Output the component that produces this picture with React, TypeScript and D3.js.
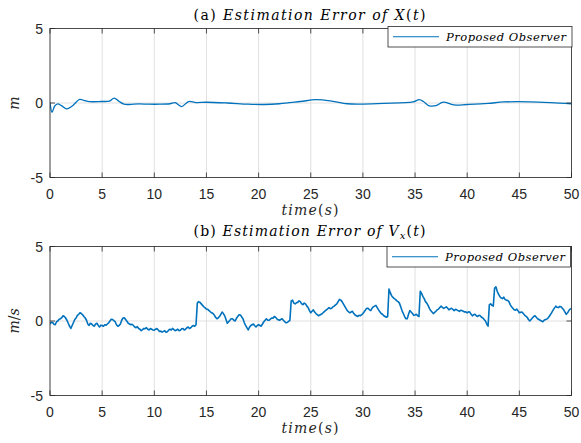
import React from 'react';
import * as d3 from 'd3';

const W = 581;
const H = 443;

const xTicks = [0, 5, 10, 15, 20, 25, 30, 35, 40, 45, 50];
const yTicks = [-5, 0, 5];
const legendLabel = 'Proposed Observer';

// (a) position error, smooth -> [time, error]
const posError: [number, number][] = [
  [0, 0.02], [0.2, -0.62], [0.45, -0.2], [0.75, -0.06], [1.1, -0.18], [1.6, -0.4],
  [2.1, -0.22], [2.85, 0.24], [3.3, 0.16], [3.8, 0.09], [4.9, 0.1], [5.7, 0.13],
  [6.15, 0.33], [6.6, 0.12], [7.1, -0.08], [7.6, -0.1], [8.5, -0.06], [9.5, -0.08],
  [10.5, -0.08], [11.5, -0.05], [12.0, 0.02], [12.6, -0.24], [13.3, 0.1], [14, 0.03],
  [15, 0.05], [17, 0.0], [19, -0.08], [20.5, -0.1], [22, -0.05], [24, 0.1],
  [25.5, 0.22], [27, 0.13], [28.5, -0.05], [30, -0.07], [32, -0.03], [34.8, 0.07],
  [35.4, 0.22], [35.8, 0.1], [36.3, -0.17], [37.0, -0.18], [37.7, 0.06], [38.7, -0.13],
  [40, -0.1], [42, -0.03], [43.5, 0.07], [46, 0.08], [48, 0.03], [50, -0.05],
];

// (b) velocity error, one sample every 0.125 s (8 per row = 1 s)
const velStep = 0.125;
const velError: number[] = [
  -0.2, -0.08, -0.1, -0.22, -0.25, -0.05, 0.0, 0.12,
  0.15, 0.22, 0.35, 0.3, 0.2, 0.05, -0.15, -0.35,
  -0.5, -0.3, -0.1, 0.1, 0.2, 0.38, 0.45, 0.55,
  0.5, 0.42, 0.3, 0.2, 0.05, -0.2, -0.3, -0.15,
  -0.2, -0.3, -0.35, -0.2, -0.15, -0.3, -0.4, -0.28,
  -0.3, -0.35, -0.25, -0.28, -0.2, -0.12, 0.0, 0.12,
  0.1, 0.02, -0.05, -0.25, -0.35, -0.3, -0.2, 0.05,
  0.2, 0.22, 0.1, -0.02, -0.15, -0.2, -0.25, -0.22,
  -0.3, -0.4, -0.45, -0.38, -0.5, -0.55, -0.65, -0.58,
  -0.5, -0.52, -0.45, -0.55, -0.6, -0.5, -0.55, -0.6,
  -0.62, -0.55, -0.5, -0.6, -0.7, -0.68, -0.75, -0.7,
  -0.65, -0.75, -0.72, -0.62, -0.55, -0.6, -0.5, -0.58,
  -0.65, -0.6, -0.55, -0.65, -0.62, -0.52, -0.5, -0.6,
  -0.55, -0.45, -0.4, -0.5, -0.45, -0.35, -0.3, -0.35,
  -0.25, 1.2, 1.3, 1.25, 1.15, 1.05, 0.95, 0.88,
  0.8, 0.78, 0.7, 0.62, 0.55, 0.5, 0.4, 0.25,
  0.15, 0.2, 0.3, 0.45, 0.6, 0.5, 0.35, 0.1,
  -0.15, -0.05, 0.05, 0.15, 0.15, 0.05, 0.0, 0.18,
  0.3, 0.42, 0.4, 0.28, 0.15, -0.1, -0.3, -0.45,
  -0.6, -0.42, -0.3, -0.25, -0.2, -0.32, -0.4, -0.3,
  -0.25, -0.3, -0.35, -0.2, -0.05, 0.05, 0.15, 0.05,
  0.05, 0.12, 0.2, 0.18, 0.3, 0.25, 0.15, 0.08,
  0.05, 0.1, 0.15, 0.05, -0.05, -0.12, -0.1, -0.02,
  0.05, 1.35, 1.4, 1.2, 1.15, 1.22, 1.25, 1.35,
  1.3, 1.15, 1.1, 1.2, 1.15, 1.0, 0.9, 0.7,
  0.55, 0.65, 0.75, 0.6, 0.5, 0.42, 0.35, 0.4,
  0.45, 0.52, 0.6, 0.68, 0.75, 0.82, 0.9, 0.82,
  0.85, 0.95, 1.0, 1.08, 1.15, 1.3, 1.45, 1.4,
  1.3, 1.15, 1.0, 0.85, 0.7, 0.62, 0.55, 0.6,
  0.65, 0.5, 0.4, 0.35, 0.3, 0.38, 0.35, 0.42,
  0.5, 0.62, 0.75, 0.85, 0.85, 0.75, 0.7, 0.85,
  0.95, 1.0, 1.05, 0.9, 0.75, 0.62, 0.5, 0.45,
  0.35, 0.3, 0.25, 0.3, 2.15, 1.9, 1.7, 1.6,
  1.5, 1.45, 1.35, 1.3, 1.2, 0.95, 0.7, 0.5,
  0.3, 0.15, 0.15, 0.45, 0.7, 0.6, 0.5, 0.38,
  0.4, 0.45, 0.35, 0.3, 2.0, 1.85, 1.65, 1.5,
  1.3, 1.2, 1.05, 0.85, 0.7, 0.6, 0.5, 0.58,
  0.65, 0.75, 0.8, 0.9, 1.0, 0.92, 0.85, 0.9,
  0.95, 0.85, 0.75, 0.82, 0.85, 0.78, 0.7, 0.78,
  0.75, 0.7, 0.65, 0.72, 0.7, 0.65, 0.6, 0.62,
  0.55, 0.62, 0.6, 0.45, 0.35, 0.42, 0.45, 0.35,
  0.3, 0.38, 0.35, 0.25, 0.2, 0.1, 0.0, -0.2,
  -0.35, 1.1, 1.15, 1.05, 1.0, 2.2, 2.3, 2.0,
  1.8, 1.65, 1.55, 1.5, 1.6, 1.45, 1.4, 1.38,
  1.3, 1.1, 0.95, 0.85, 0.75, 0.72, 0.8, 0.68,
  0.55, 0.58, 0.6, 0.5, 0.4, 0.32, 0.25, 0.1,
  0.0, 0.1, 0.2, 0.3, 0.35, 0.25, 0.15, 0.1,
  0.05, 0.0, -0.05, 0.05, 0.1, 0.12, 0.2, 0.32,
  0.45, 0.6, 0.75, 0.88, 1.0, 0.92, 0.9, 0.98,
  0.95, 0.85, 0.75, 0.6, 0.45, 0.55, 0.7, 0.8,
  0.85,
];

const LINE = '#0072BD';
const AXIS = '#262626';
const GRID = '#e0e0e0';
const SANS = '"Liberation Sans", Arial, Helvetica, sans-serif';
const SERIF = '"DejaVu Serif", "Liberation Serif", serif';

const left = 50;
const right = 571.5;

type PanelProps = {
  top: number;
  bottom: number;
  path: string | null;
  title: React.ReactNode;
  titleY: number;
  ylabel: React.ReactNode;
  legend: { x: number; y: number; w: number; h: number };
  x: d3.ScaleLinear<number, number>;
  y: d3.ScaleLinear<number, number>;
  lineWidth: number;
};

function Panel({ top, bottom, path, title, titleY, ylabel, legend, x, y, lineWidth }: PanelProps) {
  const tick = 5;
  const clipId = `clip-${top}`;
  return (
    <g>
      <defs>
        <clipPath id={clipId}>
          <rect x={left} y={top} width={right - left} height={bottom - top} />
        </clipPath>
      </defs>
      <rect x={left} y={top} width={right - left} height={bottom - top} fill="#fff" />
      {/* grid */}
      {xTicks.map((t) => (
        <line key={'gx' + t} x1={x(t)} x2={x(t)} y1={top} y2={bottom} stroke={GRID} strokeWidth={1} />
      ))}
      {yTicks.map((t) => (
        <line key={'gy' + t} x1={left} x2={right} y1={y(t)} y2={y(t)} stroke={GRID} strokeWidth={1} />
      ))}
      {/* data */}
      <path d={path || ''} fill="none" stroke={LINE} strokeWidth={lineWidth} strokeLinejoin="round" clipPath={`url(#${clipId})`} />
      {/* box */}
      <rect x={left} y={top} width={right - left} height={bottom - top} fill="none" stroke={AXIS} strokeWidth={0.8} />
      {xTicks.map((t) => (
        <g key={'tx' + t}>
          <line x1={x(t)} x2={x(t)} y1={bottom} y2={bottom - tick} stroke={AXIS} strokeWidth={0.8} />
          <line x1={x(t)} x2={x(t)} y1={top} y2={top + tick} stroke={AXIS} strokeWidth={0.8} />
          <text x={x(t)} y={bottom + 21} textAnchor="middle" fontFamily={SANS} fontSize={14} fill={AXIS}>
            {t}
          </text>
        </g>
      ))}
      {yTicks.map((t) => (
        <g key={'ty' + t}>
          <line x1={left} x2={left + tick} y1={y(t)} y2={y(t)} stroke={AXIS} strokeWidth={0.8} />
          <line x1={right} x2={right - tick} y1={y(t)} y2={y(t)} stroke={AXIS} strokeWidth={0.8} />
          <text x={43} y={y(t) + 5} textAnchor="end" fontFamily={SANS} fontSize={14} fill={AXIS}>
            {t}
          </text>
        </g>
      ))}
      {/* x label */}
      <text
        x={310}
        y={bottom + 37.5}
        textAnchor="middle"
        fontFamily={SERIF}
        fontSize={14}
        fill={AXIS}
        textLength={57}
        lengthAdjust="spacing"
      >
        <tspan fontStyle="italic">time</tspan>(<tspan fontStyle="italic">s</tspan>)
      </text>
      {/* y label */}
      <text
        transform={`translate(18.5,${(top + bottom) / 2}) rotate(-90)`}
        textAnchor="middle"
        fontFamily={SERIF}
        fontSize={14}
        fill={AXIS}
      >
        {ylabel}
      </text>
      {/* title */}
      <text
        x={309.5}
        y={titleY}
        textAnchor="middle"
        fontFamily={SERIF}
        fontSize={14}
        fill="#000"
        textLength={232}
        lengthAdjust="spacing"
      >
        {title}
      </text>
      {/* legend */}
      <rect x={legend.x} y={legend.y} width={legend.w} height={legend.h} fill="#fff" stroke={AXIS} strokeWidth={0.8} />
      <line
        x1={legend.x + 5}
        x2={legend.x + 51}
        y1={legend.y + legend.h / 2}
        y2={legend.y + legend.h / 2}
        stroke={LINE}
        strokeWidth={1.2}
      />
      <text
        x={legend.x + 58}
        y={legend.y + legend.h / 2 + 4}
        fontFamily={SERIF}
        fontStyle="italic"
        fontSize={11.5}
        fill="#000"
        textLength={120}
        lengthAdjust="spacing"
      >
        {legendLabel}
      </text>
    </g>
  );
}

export default function App() {
  const x = d3.scaleLinear().domain([0, 50]).range([left, right]);
  const yA = d3.scaleLinear().domain([-5, 5]).range([177.5, 28.5]);
  const yB = d3.scaleLinear().domain([-5, 5]).range([395.5, 246.5]);

  const lineA = d3
    .line<[number, number]>()
    .x((d) => x(d[0]))
    .y((d) => yA(d[1]))
    .curve(d3.curveCatmullRom.alpha(0.5));

  const lineB = d3
    .line<number>()
    .x((_, i) => x(i * velStep))
    .y((d) => yB(d));

  return (
    <svg width={W} height={H} style={{ position: 'absolute', left: 0, top: 0, background: '#fff' }}>
      <rect width={W} height={H} fill="#fff" />
      <Panel
        top={28.5}
        bottom={177.5}
        x={x}
        y={yA}
        lineWidth={1.3}
        path={lineA(posError)}
        titleY={19.5}
        legend={{ x: 388, y: 26.5, w: 184, h: 20.5 }}
        ylabel={<tspan fontStyle="italic">m</tspan>}
        title={
          <>
            (a) <tspan fontStyle="italic">Estimation Error of X</tspan>(<tspan fontStyle="italic">t</tspan>)
          </>
        }
      />
      <Panel
        top={246.5}
        bottom={395.5}
        x={x}
        y={yB}
        lineWidth={1.6}
        path={lineB(velError)}
        titleY={236}
        legend={{ x: 387, y: 246.5, w: 183.5, h: 20.5 }}
        ylabel={
          <>
            <tspan fontStyle="italic">m</tspan>/<tspan fontStyle="italic">s</tspan>
          </>
        }
        title={
          <>
            (b) <tspan fontStyle="italic">Estimation Error of V</tspan>
            <tspan fontStyle="italic" fontSize={10} dy={3}>x</tspan>
            <tspan dy={-3}>(</tspan>
            <tspan fontStyle="italic">t</tspan>)
          </>
        }
      />
    </svg>
  );
}
